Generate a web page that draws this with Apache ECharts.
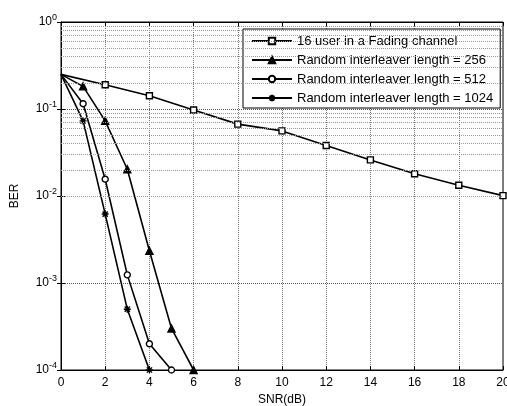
<!DOCTYPE html>
<html><head><meta charset="utf-8">
<script src="https://cdn.jsdelivr.net/npm/echarts@6/dist/echarts.min.js"></script>
<style>html,body{margin:0;padding:0;background:#fff}#c{width:507px;height:406px}</style>
</head><body><div id="c"></div>
<script>
const seriesNames = ['16 user in a Fading channel','Random interleaver length = 256','Random interleaver length = 512','Random interleaver length = 1024'];
const snrFading = [0,2,4,6,8,10,12,14,16,18,20];
const berFading = [0.25,0.19,0.142,0.0975,0.067,0.056,0.038,0.026,0.018,0.0133,0.0101];
const snr256 = [0,1,2,3,4,5,6];
const ber256 = [0.25,0.182,0.073,0.0203,0.00235,0.0003,0.0001];
const snr512 = [0,1,2,3,4,5];
const ber512 = [0.25,0.115,0.0156,0.00124,0.0002,0.0001];
const snr1024 = [0,1,2,3,4];
const ber1024 = [0.25,0.073,0.0062,0.0005,0.0001];
const xTicks = [0,2,4,6,8,10,12,14,16,18,20];
const yDecades = [1e-4,1e-3,1e-2,1e-1,1];
const minorMultipliers = [2,3,4,5,6,7,8,9];

const minorLines = [];
for (let i = 0; i < yDecades.length - 1; i++) {
  minorMultipliers.forEach(m => minorLines.push({yAxis: m * yDecades[i]}));
}

function pairs(xs, ys) {
  return xs.map((x, i) => i === 0 ? {value: [x, ys[i]], symbol: 'none'} : [x, ys[i]]);
}

const star = 'path://M0,-6L0,6M-6,0L6,0M-4.5,-4.5L4.5,4.5M-4.5,4.5L4.5,-4.5';
const font = 'Liberation Sans, Arial, sans-serif';

function mk(name, xs, ys, symbol, fill, size) {
  return {
    name, type: 'line', data: pairs(xs, ys), symbol, symbolSize: size,
    showSymbol: true,
    lineStyle: {color: '#000', width: 1.6},
    itemStyle: {color: fill, borderColor: '#000', borderWidth: 1.4},
    emphasis: {disabled: true}
  };
}

const series = [
  mk(seriesNames[0], snrFading, berFading, 'rect', '#fff', 6),
  mk(seriesNames[1], snr256, ber256, 'triangle', '#000', 7),
  mk(seriesNames[2], snr512, ber512, 'circle', '#fff', 6),
  mk(seriesNames[3], snr1024, ber1024, star, '#000', 7)
];
series[0].markLine = {
  silent: true, symbol: 'none', label: {show: false},
  lineStyle: {type: 'dotted', color: '#999', width: 1},
  data: minorLines, animation: false
};

const chart = echarts.init(document.getElementById('c'), null, {renderer: 'canvas'});
chart.setOption({
  animation: false,
  textStyle: {fontFamily: font},
  grid: {left: 61, top: 22, width: 442, height: 348, outerBoundsMode: 'none', containLabel: false,
    show: true, borderColor: '#000', borderWidth: 1, backgroundColor: 'transparent'},
  legend: {
    data: seriesNames, orient: 'vertical', left: 243, top: 29,
    backgroundColor: '#fff', borderColor: '#000', borderWidth: 1,
    padding: [5, 7, 3, 8], itemGap: 5, itemWidth: 40, itemHeight: 8,
    textStyle: {fontSize: 13, color: '#000', fontFamily: font, lineHeight: 14},
    selectedMode: false
  },
  xAxis: [{
    type: 'value', min: 0, max: 20, interval: 2,
    name: 'SNR(dB)', nameLocation: 'middle', nameGap: 20,
    nameTextStyle: {fontSize: 12, color: '#000'},
    axisLine: {lineStyle: {color: '#000', width: 1}},
    axisTick: {inside: true, length: 4, lineStyle: {color: '#000'}},
    axisLabel: {fontSize: 12, color: '#000', margin: 7,
      formatter: v => xTicks.includes(v) ? String(v) : ''},
    splitLine: {show: true, lineStyle: {type: 'dotted', color: '#777', width: 1}}
  }, {
    type: 'value', min: 0, max: 20, interval: 2, position: 'top',
    axisLine: {lineStyle: {color: '#000'}},
    axisTick: {inside: true, length: 4, lineStyle: {color: '#000'}},
    axisLabel: {show: false}, splitLine: {show: false}
  }],
  yAxis: [{
    type: 'log', min: 1e-4, max: 1, logBase: 10,
    name: 'BER', nameLocation: 'middle', nameGap: 40,
    nameTextStyle: {fontSize: 12, color: '#000'},
    axisLine: {lineStyle: {color: '#000', width: 1}},
    axisTick: {inside: true, length: 4, lineStyle: {color: '#000'}},
    axisLabel: {
      color: '#000', margin: 4,
      formatter: v => '{b|10}{s|' + Math.round(Math.log10(v)) + '}',
      rich: {
        b: {fontSize: 12, color: '#000', fontFamily: font},
        s: {fontSize: 9, color: '#000', fontFamily: font, padding: [0, 0, 9, 0]}
      }
    },
    splitLine: {show: true, lineStyle: {type: 'dotted', color: '#555', width: 1}}
  }, {
    type: 'log', min: 1e-4, max: 1, logBase: 10, position: 'right',
    axisLine: {lineStyle: {color: '#000'}},
    axisTick: {inside: true, length: 4, lineStyle: {color: '#000'}},
    axisLabel: {show: false}, splitLine: {show: false}
  }],
  series
});
</script></body></html>
